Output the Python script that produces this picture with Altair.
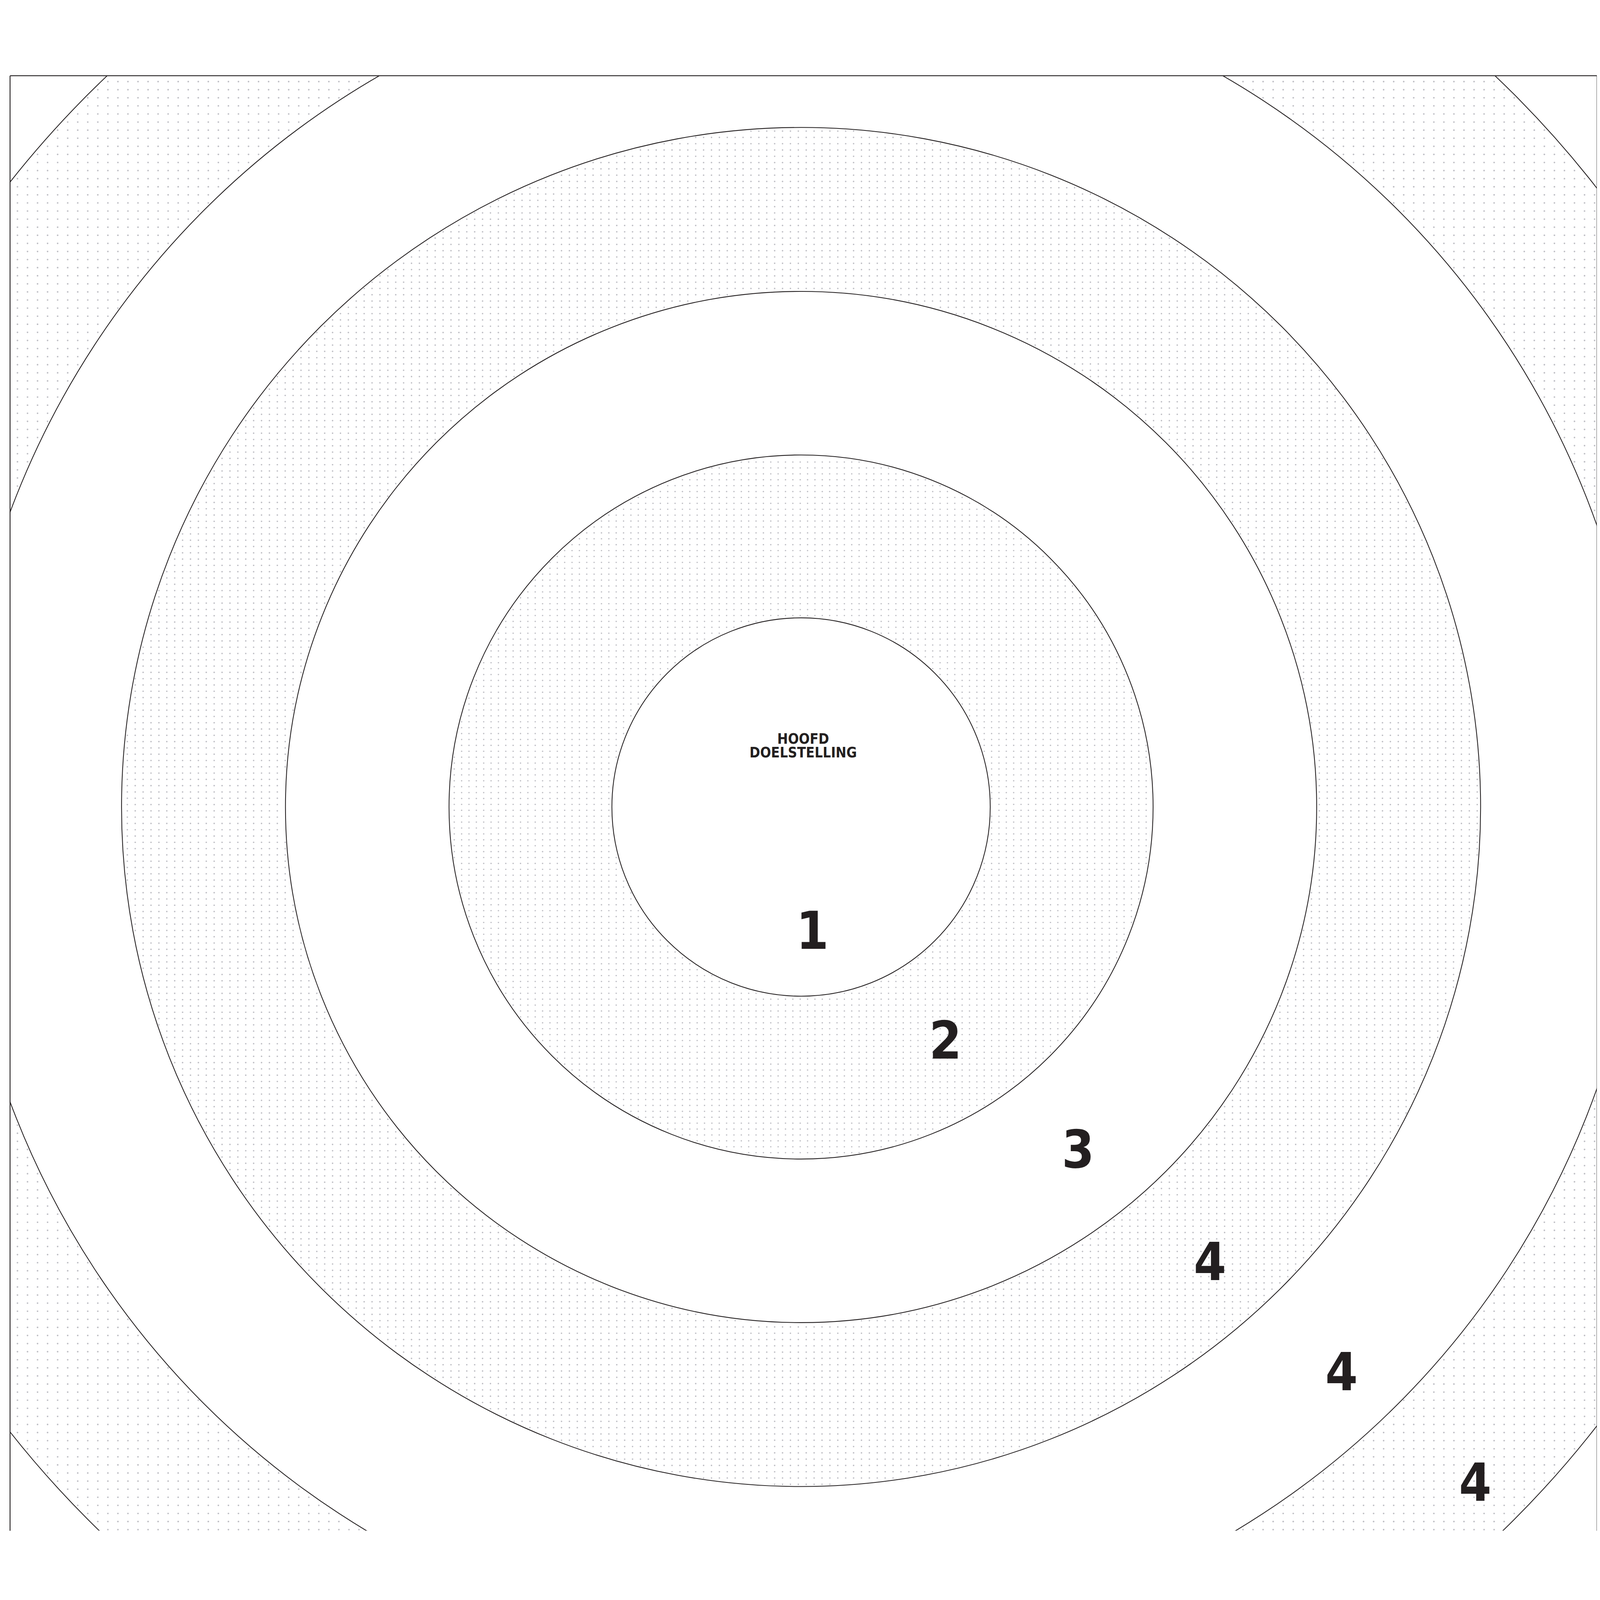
import math
import altair as alt
import numpy as np
import pandas as pd

# ---- values (pixel-like units, origin = target centre, y downward) ----
RING_RADIUS = [532, 990, 1450, 1911, 2374, 2835]
DOTTED_BANDS = [(0, 1), (2, 3), (4, 5)]          # pairs of ring indices with dotted fill
LABEL_TEXT = ["1", "2", "3", "4", "4", "4"]
LABEL_X = [32, 406, 779, 1150, 1520, 1896]
LABEL_Y = [399, 707, 1014, 1330, 1640, 1951]
TITLE_TEXT = ["HOOFD\nDOELSTELLING"]
TITLE_X = [6]
TITLE_Y = [-178]
X_DOMAIN = [-2225, 2238]
Y_DOMAIN = [-2057, 2035]

# texture (dot grid) style per dotted band: origin x, origin y, step x, step y, dot size
DOT_STYLE = [
    (-582.0, -73.7, 20.7, 16.6, 16),
    (-1739.3, -60.0, 22.2, 17.7, 18),
    (-2203.7, -2040.0, 28.25, 22.75, 21),
]

INK = "#231f20"
DOT = "#bfbfc5"
W = X_DOMAIN[1] - X_DOMAIN[0]
H = Y_DOMAIN[1] - Y_DOMAIN[0]

xscale = alt.Scale(domain=X_DOMAIN, nice=False, zero=False)
yscale = alt.Scale(domain=Y_DOMAIN, nice=False, zero=False, reverse=True)
frame_axis = dict(domain=True, domainColor=INK, domainWidth=2.5, ticks=False,
                  labels=False, grid=False, title=None)
x_axis = alt.Axis(orient="top", **frame_axis)


def band_dots(r_in, r_out, x0, y0, sx, sy):
    kx = np.arange(math.floor((X_DOMAIN[0] - x0) / sx), math.ceil((X_DOMAIN[1] - x0) / sx) + 1)
    ky = np.arange(math.floor((Y_DOMAIN[0] - y0) / sy), math.ceil((Y_DOMAIN[1] - y0) / sy) + 1)
    gx, gy = np.meshgrid(x0 + kx * sx, y0 + ky * sy)
    gx = gx.ravel()
    gy = gy.ravel()
    rr = np.hypot(gx, gy)
    keep = ((rr > r_in + 4) & (rr < r_out - 4)
            & (gx > X_DOMAIN[0] + 4) & (gx < X_DOMAIN[1] - 4)
            & (gy > Y_DOMAIN[0] + 4) & (gy < Y_DOMAIN[1]))
    return pd.DataFrame({"x": np.round(gx[keep], 1), "y": np.round(gy[keep], 1)})


layers = []
for i, ((a, b), (x0, y0, sx, sy, sz)) in enumerate(zip(DOTTED_BANDS, DOT_STYLE)):
    df = band_dots(RING_RADIUS[a], RING_RADIUS[b], x0, y0, sx, sy)
    y_axis = alt.Axis(orient="left", **frame_axis) if i == 0 else None
    layers.append(
        alt.Chart(df).mark_circle(size=sz, color=DOT, opacity=1, clip=True).encode(
            x=alt.X("x:Q", scale=xscale, axis=x_axis),
            y=alt.Y("y:Q", scale=yscale, axis=y_axis),
        )
    )

rings = pd.DataFrame({"cx": [0] * len(RING_RADIUS), "cy": [0] * len(RING_RADIUS), "r": RING_RADIUS})
rmax = 3000
layers.append(
    alt.Chart(rings).mark_point(shape="circle", filled=False, stroke=INK, strokeWidth=2.3,
                                opacity=1, clip=True).encode(
        x=alt.X("cx:Q", scale=xscale, axis=x_axis),
        y=alt.Y("cy:Q", scale=yscale, axis=alt.Axis(orient="right", **frame_axis)),
        size=alt.Size("r:Q", scale=alt.Scale(type="pow", exponent=2, domain=[0, rmax],
                                             range=[0, 4 * rmax * rmax]), legend=None),
    )
)

labels = pd.DataFrame({"x": LABEL_X, "y": LABEL_Y, "t": LABEL_TEXT})
FONT = "'Liberation Sans Narrow', 'DejaVu Sans Condensed', 'Roboto Condensed', Roboto, sans-serif"
layers.append(
    alt.Chart(labels).mark_text(font=FONT, fontSize=146, fontWeight="bold", color=INK,
                                align="center", baseline="alphabetic").encode(
        x=alt.X("x:Q", scale=xscale, axis=x_axis),
        y=alt.Y("y:Q", scale=yscale, axis=None),
        text="t:N",
    )
)

title = pd.DataFrame({"x": TITLE_X, "y": TITLE_Y, "t": TITLE_TEXT})
layers.append(
    alt.Chart(title).mark_text(font=FONT, fontSize=40, fontWeight="bold", color=INK,
                               align="center", baseline="alphabetic", lineBreak="\n",
                               lineHeight=39).encode(
        x=alt.X("x:Q", scale=xscale, axis=x_axis),
        y=alt.Y("y:Q", scale=yscale, axis=None),
        text="t:N",
    )
)

chart = (
    alt.layer(*layers)
    .resolve_axis(y="independent")
    .properties(width=W, height=H, autosize=alt.AutoSizeParams(type="none"),
                padding={"left": 19, "top": 2, "right": 0, "bottom": 0},
                background="white")
    .configure_view(strokeOpacity=0)
)

chart.save("out.html", embed_options={"renderer": "svg", "actions": False})
